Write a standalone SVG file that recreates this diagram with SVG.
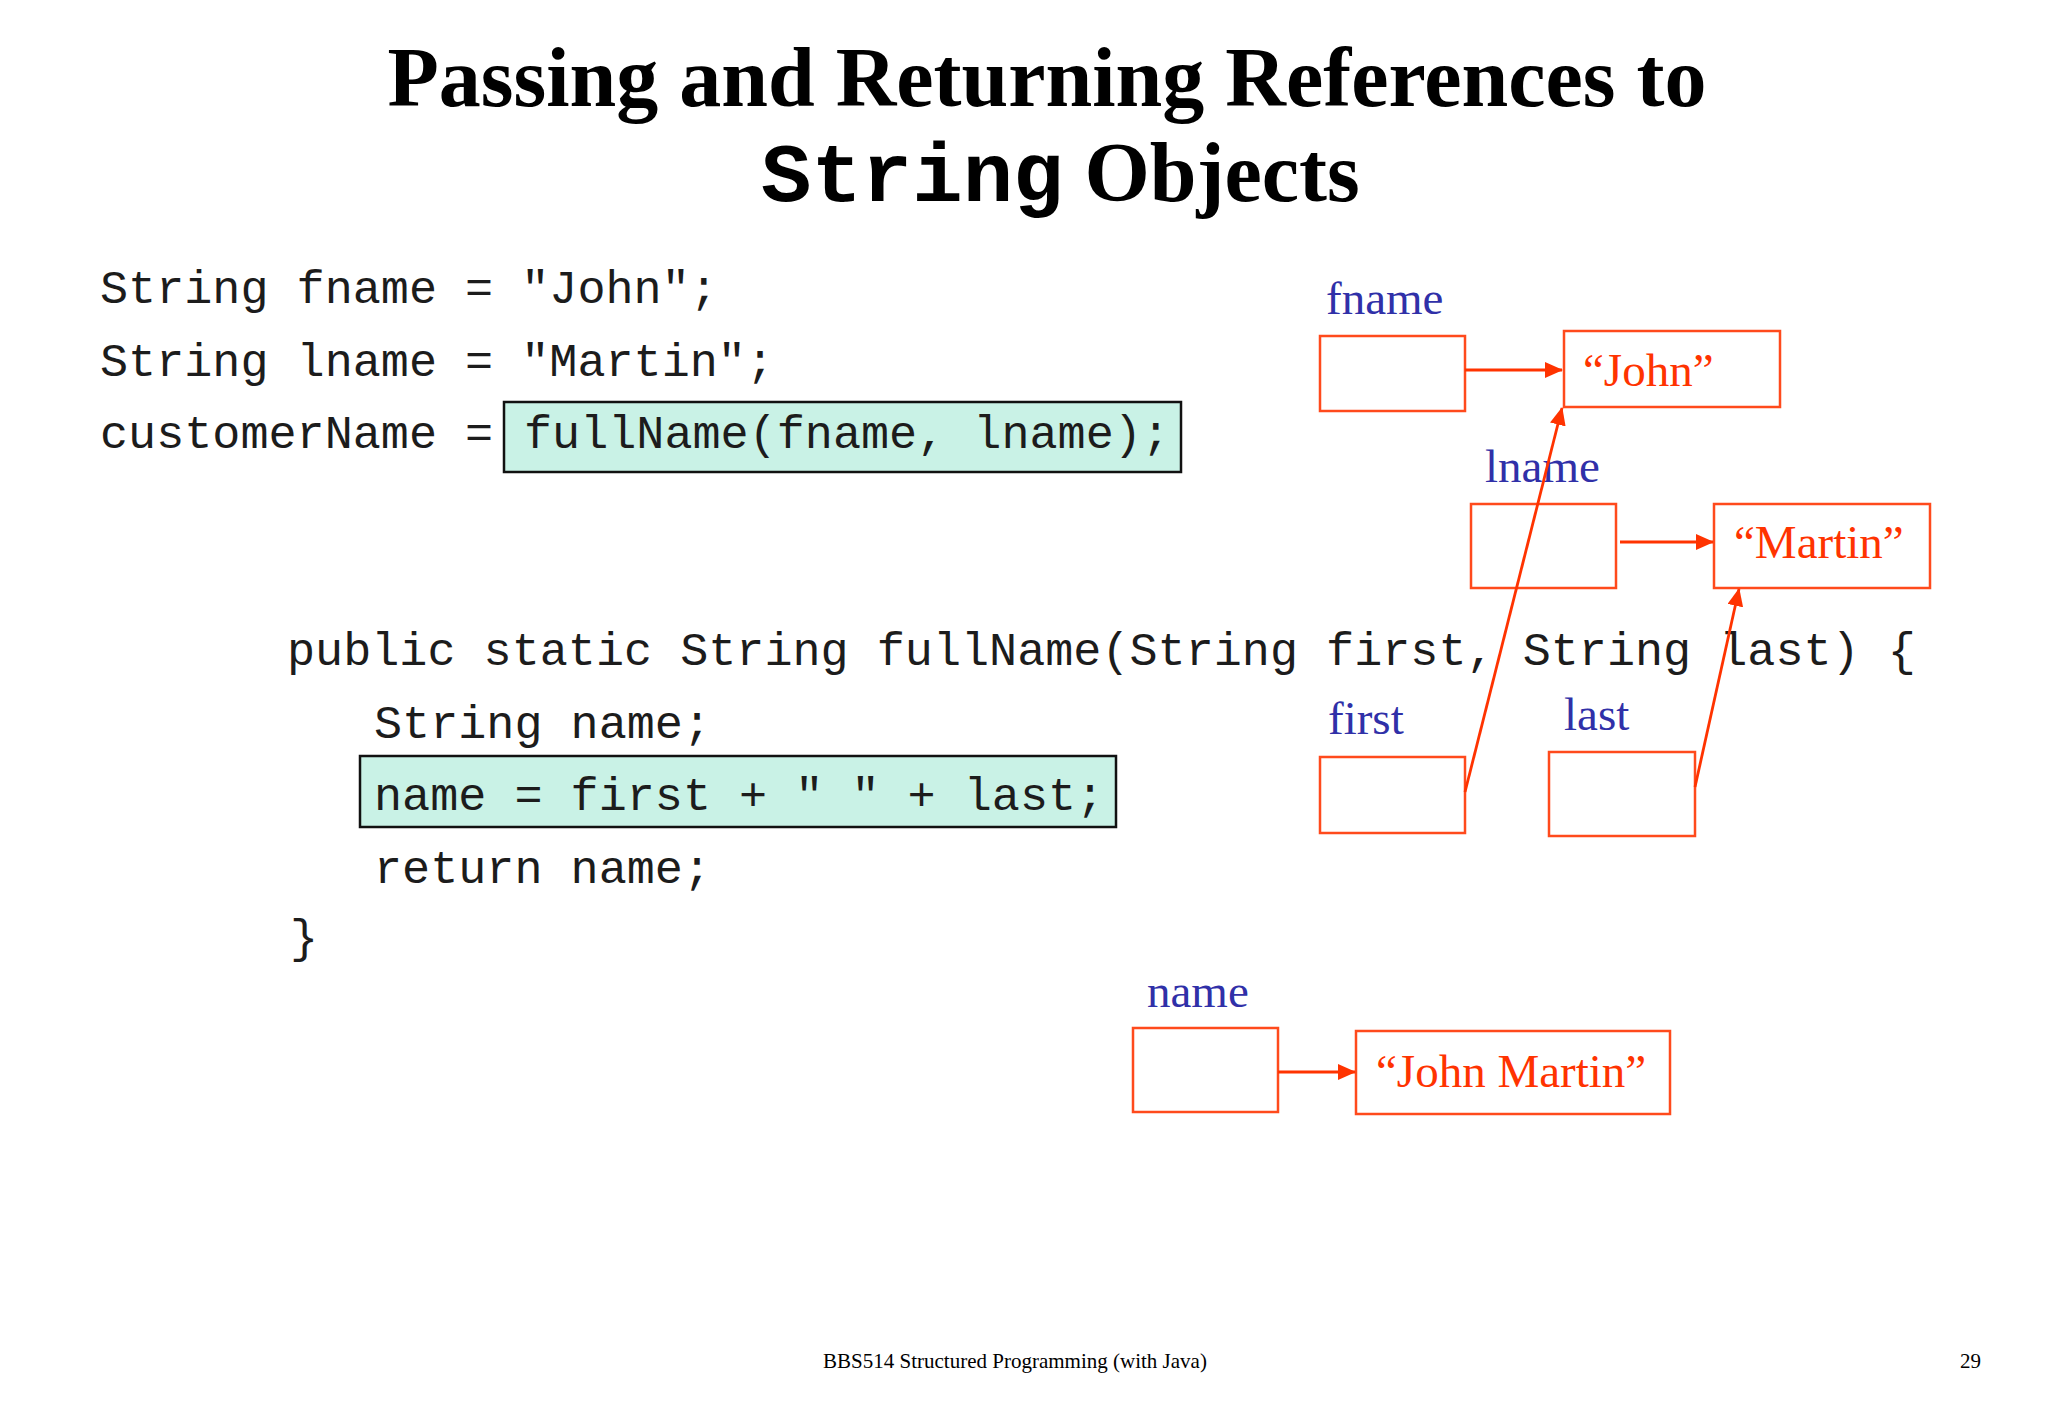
<svg xmlns="http://www.w3.org/2000/svg" width="2048" height="1418" viewBox="0 0 2048 1418">
<defs>
<style>
.title{font-family:"Liberation Serif","Times New Roman",serif;font-weight:bold;font-size:84px;fill:#000}
.titlemono{font-family:"Liberation Mono","Courier New",monospace;font-weight:bold}
.code{font-family:"Liberation Mono","Courier New",monospace;font-size:46.8px;fill:#1c1c1c}
.hl{fill:#c9f2e6;stroke:#111;stroke-width:2.5}
.var{font-family:"Liberation Serif","Times New Roman",serif;font-size:47px;fill:#3030a8}
.val{font-family:"Liberation Serif","Times New Roman",serif;font-size:47px;fill:#ff3300}
.box{fill:#fff;stroke:#ff4a1c;stroke-width:2.5}
.conn{stroke:#ff3300;stroke-width:2.8;fill:none}
.foot{font-family:"Liberation Serif","Times New Roman",serif;font-size:21px;fill:#000}
</style>
<marker id="arr" markerUnits="userSpaceOnUse" markerWidth="18" markerHeight="16" refX="17" refY="8" orient="auto">
<path d="M0,0 L18,8 L0,16 Z" fill="#ff3300"/>
</marker>
</defs>
<rect width="2048" height="1418" fill="#fff"/>

<g id="title">
<text class="title" x="1047" y="106" text-anchor="middle">Passing and Returning References to</text>
<text class="title" x="761" y="201"><tspan class="titlemono">String</tspan> Objects</text>
</g>

<g id="code-main">
<text class="code" x="100" y="303">String fname = "John";</text>
<text class="code" x="100" y="376">String lname = "Martin";</text>
<text class="code" x="100" y="448">customerName =</text>
<rect class="hl" x="504" y="402" width="677" height="70"/>
<text class="code" x="524" y="448">fullName(fname, lname);</text>
</g>

<g id="code-method">
<text class="code" x="287" y="665">public static String fullName(String first, String last) {</text>
<text class="code" x="374" y="738">String name;</text>
<rect class="hl" x="360" y="756" width="756" height="71"/>
<text class="code" x="374" y="810">name = first + " " + last;</text>
<text class="code" x="374" y="883">return name;</text>
<text class="code" x="290" y="952">}</text>
</g>

<g id="fname">
<text class="var" x="1326" y="314">fname</text>
<rect class="box" x="1320" y="336" width="145" height="75"/>
</g>
<g id="john">
<rect class="box" x="1564" y="331" width="216" height="76"/>
<text class="val" x="1583" y="386">“John”</text>
</g>
<g id="lname">
<text class="var" x="1485" y="482">lname</text>
<rect class="box" x="1471" y="504" width="145" height="84"/>
</g>
<g id="martin">
<rect class="box" x="1714" y="504" width="216" height="84"/>
<text class="val" x="1734" y="558">“Martin”</text>
</g>
<g id="first">
<text class="var" x="1328" y="734">first</text>
<rect class="box" x="1320" y="757" width="145" height="76"/>
</g>
<g id="last">
<text class="var" x="1564" y="730">last</text>
<rect class="box" x="1549" y="752" width="146" height="84"/>
</g>
<g id="name">
<text class="var" x="1147" y="1007">name</text>
<rect class="box" x="1133" y="1028" width="145" height="84"/>
</g>
<g id="johnmartin">
<rect class="box" x="1356" y="1031" width="314" height="83"/>
<text class="val" x="1376" y="1087">“John Martin”</text>
</g>

<g id="connectors">
<line class="conn" x1="1465" y1="370" x2="1562" y2="370" marker-end="url(#arr)"/>
<line class="conn" x1="1620" y1="542" x2="1713" y2="542" marker-end="url(#arr)"/>
<line class="conn" x1="1465" y1="792" x2="1562" y2="408" marker-end="url(#arr)"/>
<line class="conn" x1="1695" y1="787" x2="1739" y2="589" marker-end="url(#arr)"/>
<line class="conn" x1="1278" y1="1072" x2="1355" y2="1072" marker-end="url(#arr)"/>
</g>

<g id="footer">
<text class="foot" x="1015" y="1368" text-anchor="middle">BBS514 Structured Programming (with Java)</text>
<text class="foot" x="1981" y="1368" text-anchor="end">29</text>
</g>
</svg>
